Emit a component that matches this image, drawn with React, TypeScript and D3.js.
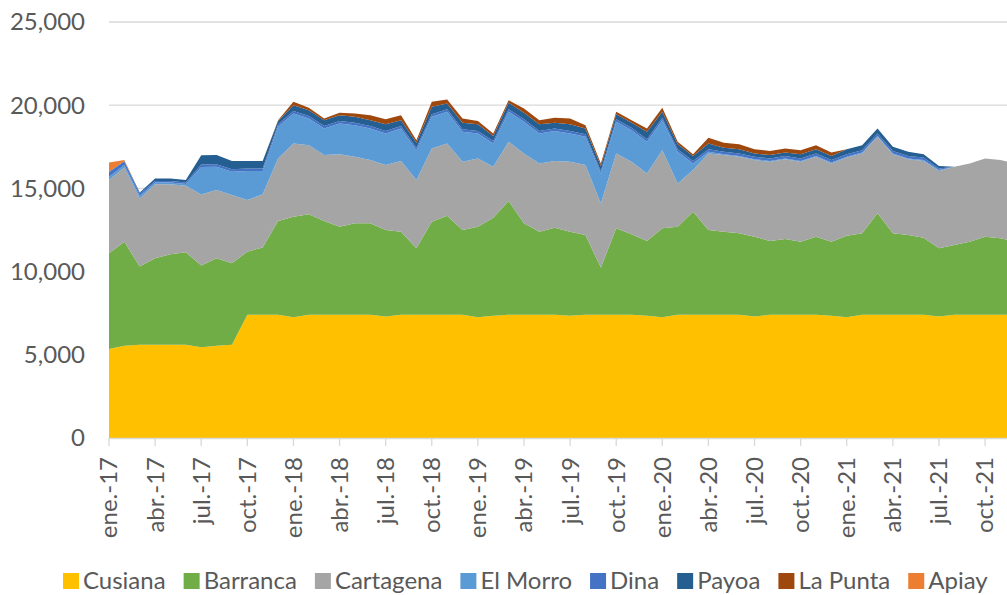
import React, { useEffect, useRef } from "react";
import * as d3 from "d3";

const months = ["ene.", "feb.", "mar.", "abr.", "may.", "jun.", "jul.", "ago.", "sep.", "oct.", "nov.", "dic."];
const years = ["17", "18", "19", "20", "21"];
const categories = years.flatMap((y) => months.map((m) => `${m}-${y}`));

const yTicks = [0, 5000, 10000, 15000, 20000, 25000];

const cusiana = [
  5350, 5550, 5600, 5600, 5600, 5600, 5450, 5550, 5600, 7400, 7400, 7400,
  7250, 7400, 7400, 7400, 7400, 7400, 7300, 7400, 7400, 7400, 7400, 7400,
  7250, 7350, 7400, 7400, 7400, 7400, 7350, 7400, 7400, 7400, 7400, 7350,
  7250, 7400, 7400, 7400, 7400, 7400, 7300, 7400, 7400, 7400, 7400, 7350,
  7250, 7400, 7400, 7400, 7400, 7400, 7300, 7400, 7400, 7400, 7400, 7400,
];
const barranca = [
  5750, 6250, 4700, 5200, 5440, 5560, 4910, 5250, 4900, 3800, 4050, 5640,
  6050, 6040, 5640, 5300, 5500, 5500, 5200, 5000, 4000, 5600, 5960, 5100,
  5450, 5890, 6840, 5500, 5000, 5240, 5050, 4800, 2840, 5200, 4840, 4490,
  5350, 5300, 6200, 5100, 5000, 4900, 4800, 4440, 4560, 4400, 4700, 4450,
  4910, 4900, 6100, 4900, 4800, 4640, 4100, 4200, 4400, 4700, 4600, 4400,
];
const cartagena = [
  4400, 4450, 4100, 4450, 4210, 4000, 4280, 4100, 4100, 3100, 3200, 3760,
  4400, 4160, 3960, 4350, 4000, 3800, 3900, 4250, 4100, 4400, 4340, 4100,
  4100, 3060, 3560, 4200, 4100, 4010, 4200, 4200, 3860, 4500, 4360, 4060,
  4700, 2600, 2500, 4600, 4600, 4600, 4600, 4760, 4790, 4800, 4800, 4700,
  4690, 4800, 4600, 4750, 4550, 4610, 4650, 4700, 4700, 4700, 4700, 4700,
];
const elMorro = [
  200, 150, 150, 100, 100, 100, 1650, 1400, 1400, 1750, 1400, 1900,
  1800, 1600, 1600, 1850, 1900, 1900, 1900, 1950, 1800, 1900, 1900, 1800,
  1500, 1400, 1800, 1900, 1800, 1800, 1700, 1700, 1800, 1900, 1900, 1900,
  1800, 1900, 400, 100, 50, 50, 50, 50, 50, 50, 50, 50,
  50, 50, 50, 50, 50, 50, 50, 0, 0, 0, 0, 0,
];
const dina = [
  250, 200, 150, 100, 100, 100, 150, 150, 150, 150, 150, 150,
  150, 150, 150, 150, 150, 150, 150, 150, 150, 150, 150, 150,
  150, 150, 150, 150, 150, 150, 150, 150, 150, 150, 150, 150,
  150, 150, 150, 150, 150, 150, 150, 150, 150, 150, 150, 150,
  150, 150, 150, 150, 150, 150, 100, 0, 0, 0, 0, 0,
];
const payoa = [
  50, 50, 50, 150, 150, 150, 550, 550, 500, 450, 450, 200,
  350, 350, 350, 350, 350, 350, 400, 350, 300, 450, 350, 400,
  400, 300, 400, 400, 400, 350, 400, 350, 300, 300, 300, 450,
  350, 300, 300, 350, 250, 250, 200, 200, 200, 250, 250, 250,
  300, 300, 300, 250, 250, 200, 150, 0, 0, 0, 0, 0,
];
const laPunta = [
  0, 0, 0, 0, 0, 0, 0, 0, 0, 0, 0, 50,
  200, 150, 100, 150, 200, 300, 300, 300, 150, 300, 250, 250,
  200, 150, 150, 250, 250, 300, 350, 200, 150, 150, 150, 200,
  250, 150, 100, 350, 300, 300, 250, 250, 250, 250, 250, 200,
  0, 0, 0, 0, 0, 0, 0, 0, 0, 0, 0, 0,
];
const apiay = [
  550, 50, 0, 0, 0, 0, 0, 0, 0, 0, 0, 0,
  0, 0, 0, 0, 0, 0, 0, 0, 0, 0, 0, 0,
  0, 0, 0, 0, 0, 0, 0, 0, 0, 0, 0, 0,
  0, 0, 0, 0, 0, 0, 0, 0, 0, 0, 0, 0,
  0, 0, 0, 0, 0, 0, 0, 0, 0, 0, 0, 0,
];

const seriesNames = ["Cusiana", "Barranca", "Cartagena", "El Morro", "Dina", "Payoa", "La Punta", "Apiay"];
const seriesValues = [cusiana, barranca, cartagena, elMorro, dina, payoa, laPunta, apiay];
const colors = ["#FFC000", "#70AD47", "#A5A5A5", "#5B9BD5", "#4472C4", "#255E91", "#9E480E", "#ED7D31"];

export default function App() {
  const ref = useRef<SVGSVGElement>(null);

  useEffect(() => {
    document.body.style.margin = "0";
    const width = 1007,
      height = 595;
    const font = "Lato, 'Open Sans', sans-serif";
    const fontSize = 24;
    const textColor = "#595959";

    const svg = d3.select(ref.current);
    svg.selectAll("*").remove();
    svg.attr("width", width).attr("height", height).style("display", "block");

    const rows = categories.map((c, i) => {
      const r: any = { cat: c };
      seriesNames.forEach((s, k) => (r[s] = seriesValues[k][i]));
      return r;
    });
    const stacked = d3.stack<any>().keys(seriesNames)(rows);

    const x = d3
      .scaleLinear()
      .domain([0, categories.length - 1])
      .range([109, 109 + 15.37 * (categories.length - 1)]);
    const y = d3.scaleLinear().domain([0, 25000]).range([438, 22]);

    // gridlines
    svg
      .append("g")
      .selectAll("line")
      .data(yTicks)
      .enter()
      .append("line")
      .attr("x1", 109)
      .attr("x2", width)
      .attr("y1", (d) => y(d))
      .attr("y2", (d) => y(d))
      .attr("stroke", "#D9D9D9")
      .attr("stroke-width", 1.3);

    const area = d3
      .area<any>()
      .x((d, i) => x(i))
      .y0((d) => y(d[0]))
      .y1((d) => y(d[1]));

    svg
      .append("g")
      .selectAll("path")
      .data(stacked)
      .enter()
      .append("path")
      .attr("d", (d) => area(d as any))
      .attr("fill", (d, i) => colors[i]);

    // y labels
    svg
      .append("g")
      .selectAll("text")
      .data(yTicks)
      .enter()
      .append("text")
      .attr("x", 85)
      .attr("y", (d) => y(d))
      .attr("dy", "0.35em")
      .attr("text-anchor", "end")
      .attr("font-family", font)
      .attr("font-size", fontSize)
      .attr("fill", textColor)
      .text((d) => d3.format(",")(d));

    // x axis
    svg
      .append("line")
      .attr("x1", 109)
      .attr("x2", width)
      .attr("y1", 438.5)
      .attr("y2", 438.5)
      .attr("stroke", "#D9D9D9")
      .attr("stroke-width", 1.3);

    const tickIdx = categories.map((c, i) => i).filter((i) => i % 3 === 0);
    const xg = svg.append("g");
    xg.selectAll("line")
      .data(tickIdx)
      .enter()
      .append("line")
      .attr("x1", (i) => x(i))
      .attr("x2", (i) => x(i))
      .attr("y1", 438)
      .attr("y2", 446)
      .attr("stroke", "#D9D9D9")
      .attr("stroke-width", 1.3);
    xg.selectAll("text")
      .data(tickIdx)
      .enter()
      .append("text")
      .attr("transform", (i) => `translate(${x(i)},457) rotate(-90)`)
      .attr("dy", "0.35em")
      .attr("text-anchor", "end")
      .attr("font-family", font)
      .attr("font-size", fontSize)
      .attr("fill", textColor)
      .text((i) => categories[i]);

    // legend
    const lg = svg.append("g");
    let lx = 63;
    seriesNames.forEach((s, k) => {
      lg.append("rect")
        .attr("x", lx)
        .attr("y", 573)
        .attr("width", 16)
        .attr("height", 16)
        .attr("fill", colors[k]);
      const t = lg
        .append("text")
        .attr("x", lx + 20)
        .attr("y", 581)
        .attr("dy", "0.35em")
        .attr("font-family", font)
        .attr("font-size", fontSize)
        .attr("fill", textColor)
        .text(s);
      const w = (t.node() as SVGTextElement).getComputedTextLength();
      lx += 20 + w + 18;
    });
  }, []);

  return <svg ref={ref}></svg>;
}
